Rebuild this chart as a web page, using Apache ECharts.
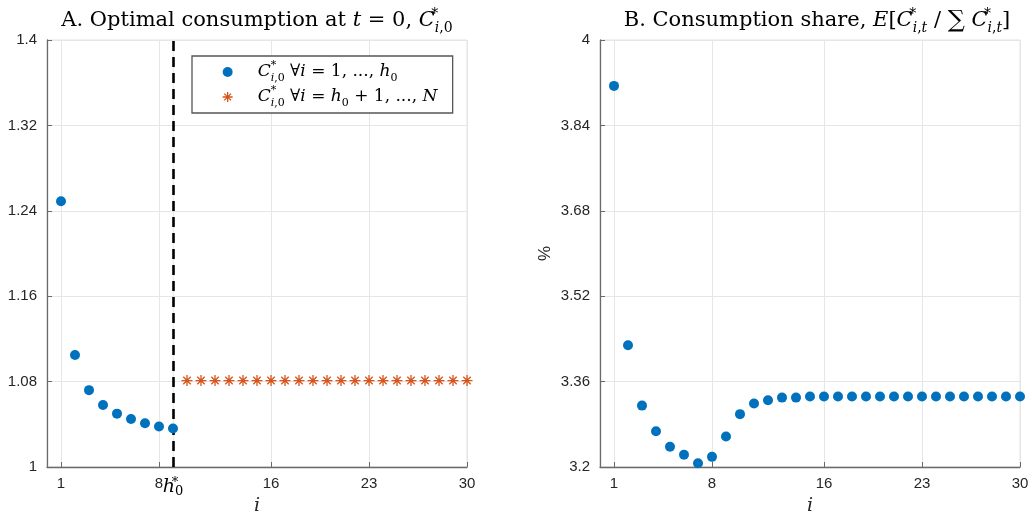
<!DOCTYPE html>
<html><head><meta charset="utf-8">
<script src="https://cdn.jsdelivr.net/npm/echarts@6/dist/echarts.min.js"></script>
<style>html,body{margin:0;padding:0;background:#fff}#c{width:1032px;height:517px}</style>
</head><body><div id="c"></div>
<script>
// ---------- data ----------
const h0 = 9;                       // h0* (last "low" household)
const nTotal = 30;                  // N
const consLow = [1.249, 1.105, 1.072, 1.058, 1.050, 1.045, 1.041, 1.038, 1.036];   // i = 1..h0
const consHigh = [1.081, 1.081, 1.081, 1.081, 1.081, 1.081, 1.081, 1.081, 1.081, 1.081, 1.081,
                  1.081, 1.081, 1.081, 1.081, 1.081, 1.081, 1.081, 1.081, 1.081, 1.081]; // i = h0+1..N
const share = [3.914, 3.428, 3.315, 3.267, 3.238, 3.223, 3.207, 3.219, 3.257, 3.299,
               3.319, 3.325, 3.330, 3.330, 3.332, 3.332, 3.332, 3.332, 3.332, 3.332,
               3.332, 3.332, 3.332, 3.332, 3.332, 3.332, 3.332, 3.332, 3.332, 3.332]; // %
const xTicksA = [1, 8, 9, 16, 23, 30];
const xTicksB = [1, 8, 16, 23, 30];
const yTicksA = [1, 1.08, 1.16, 1.24, 1.32, 1.4];
const yTicksB = [3.2, 3.36, 3.52, 3.68, 3.84, 4];

// ---------- styles ----------
const SERIF = 'DejaVu Serif';
const SANS = 'Liberation Sans';
const BLUE = '#0072BD', ORANGE = '#D95319';
function mathRich(size, lh) {
  const s = Math.round(size * 0.66);
  const base = {fontFamily: SERIF, color: '#000', fontWeight: 'normal'};
  return {
    n: Object.assign({}, base, {fontSize: size, lineHeight: lh}),
    big: Object.assign({}, base, {fontSize: Math.round(size * 1.15), lineHeight: lh}),
    it: Object.assign({}, base, {fontSize: size, lineHeight: lh, fontStyle: 'italic'}),
    sup: Object.assign({}, base, {fontSize: s, lineHeight: s + 2, verticalAlign: 'top', width: 0}),
    sub: Object.assign({}, base, {fontSize: s, lineHeight: s + 2, verticalAlign: 'bottom'}),
    subit: Object.assign({}, base, {fontSize: s, lineHeight: s + 2, verticalAlign: 'bottom', fontStyle: 'italic'})
  };
}
const STAR = 'path://M5,0L5,10M0,5L10,5M1.6,1.6L8.4,8.4M1.6,8.4L8.4,1.6';

const lowData = consLow.map((v, k) => [k + 1, v]);
const highData = consHigh.map((v, k) => [h0 + 1 + k, v]);
const shareData = share.map((v, k) => [k + 1, v]);

const gridA = {left: 47, top: 40, width: 420, height: 427};
const gridB = {left: 600, top: 40, width: 420, height: 427};

function xAxisCfg(gi, ticks, rich) {
  return {
    type: 'value', gridIndex: gi, min: 0, max: nTotal,
    name: 'i', nameLocation: 'middle', nameGap: 30, nameMoveOverlap: false,
    nameTextStyle: {fontFamily: SERIF, fontStyle: 'italic', fontSize: 19, color: '#262626'},
    axisLine: {show: true, onZero: false, lineStyle: {color: '#6a6a6a', width: 1.3}},
    axisTick: {show: true, inside: true, length: 5, customValues: ticks, lineStyle: {color: '#6a6a6a'}},
    axisLabel: {customValues: ticks, margin: 9, fontFamily: SANS, fontSize: 15, color: '#262626',
      formatter: v => (v === h0 && gi === 0) ? '{it|h}{sup|*}{sub|0}' : String(v), rich: rich},
    splitLine: {show: true, lineStyle: {color: '#e6e6e6', width: 1}}
  };
}
function yAxisCfg(gi, ticks, lo, hi, extra) {
  return Object.assign({
    type: 'value', gridIndex: gi, min: lo, max: hi,
    axisLine: {show: true, onZero: false, lineStyle: {color: '#6a6a6a', width: 1.3}},
    axisTick: {show: true, inside: true, length: 5, customValues: ticks, lineStyle: {color: '#6a6a6a'}},
    axisLabel: {customValues: ticks, margin: 10, fontFamily: SANS, fontSize: 15, color: '#262626'},
    splitLine: {show: true, lineStyle: {color: '#e6e6e6', width: 1}}
  }, extra || {});
}

const hRich = mathRich(19, 22);
const titleRich = mathRich(21, 28);
const legRich = mathRich(17, 24);

const gridBase = {show: true, borderColor: '#e2e2e2', borderWidth: 1, backgroundColor: '#fff',
                  containLabel: false, outerBoundsMode: 'none'};

const option = {
  animation: false,
  backgroundColor: '#fff',
  title: [
    {text: '{n|A. Optimal consumption at }{it|t}{n| = 0, }{it|C}{sup|*}{subit|i}{sub|,0}',
     left: 257, top: 7, textAlign: 'center', padding: 0, textStyle: {fontWeight: 'normal', rich: titleRich}},
    {text: '{n|B. Consumption share, }{it|E}{n|[}{it|C}{sup|*}{subit|i}{sub|,}{subit|t}{n| / }{big|∑}{n| }{it|C}{sup|*}{subit|i}{sub|,}{subit|t}{n|]}',
     left: 817, top: 7, textAlign: 'center', padding: 0, textStyle: {fontWeight: 'normal', rich: titleRich}}
  ],
  grid: [Object.assign({}, gridBase, gridA), Object.assign({}, gridBase, gridB)],
  xAxis: [xAxisCfg(0, xTicksA, hRich), xAxisCfg(1, xTicksB, hRich)],
  yAxis: [
    yAxisCfg(0, yTicksA, 1, 1.4),
    yAxisCfg(1, yTicksB, 3.2, 4, {name: '%', nameLocation: 'middle', nameGap: 46, nameRotate: 90,
      nameMoveOverlap: false,
      nameTextStyle: {fontFamily: SANS, fontSize: 17, color: '#262626'}})
  ],
  legend: {
    orient: 'vertical', left: 192, top: 56,
    padding: [4, 5, 4, 30], itemGap: 1, itemWidth: 50, itemHeight: 10,
    backgroundColor: '#fff', borderColor: '#555', borderWidth: 1.3, borderRadius: 0,
    data: [{name: 'low', icon: 'circle'}, {name: 'high', icon: STAR, itemStyle: {borderColor: ORANGE, borderWidth: 1.3, color: ORANGE}}],
    textStyle: {width: 190, lineHeight: 24, rich: legRich},
    formatter: name => name === 'low'
      ? '{it|C}{sup|*}{subit|i}{sub|,0}{n| ∀}{it|i}{n| = 1, ..., }{it|h}{sub|0}'
      : '{it|C}{sup|*}{subit|i}{sub|,0}{n| ∀}{it|i}{n| = }{it|h}{sub|0}{n| + 1, ..., }{it|N}',
    selectedMode: false
  },
  series: [
    {name: 'low', type: 'scatter', xAxisIndex: 0, yAxisIndex: 0, data: lowData,
     symbol: 'circle', symbolSize: 10, itemStyle: {color: BLUE, opacity: 1}, z: 5,
     markLine: {silent: true, symbol: ['none', 'none'], label: {show: false},
       lineStyle: {color: '#000', type: [10, 6], width: 2.6, opacity: 1}, data: [{xAxis: h0}]}},
    {name: 'high', type: 'scatter', xAxisIndex: 0, yAxisIndex: 0, data: highData,
     symbol: STAR, symbolSize: 11, itemStyle: {color: ORANGE, borderColor: ORANGE, borderWidth: 1.3, opacity: 1}},
    {name: 'share', type: 'scatter', xAxisIndex: 1, yAxisIndex: 1, data: shareData,
     symbol: 'circle', symbolSize: 10, itemStyle: {color: BLUE, opacity: 1}}
  ]
};
const chart = echarts.init(document.getElementById('c'), null, {renderer: 'canvas'});
chart.setOption(option);
</script></body></html>
